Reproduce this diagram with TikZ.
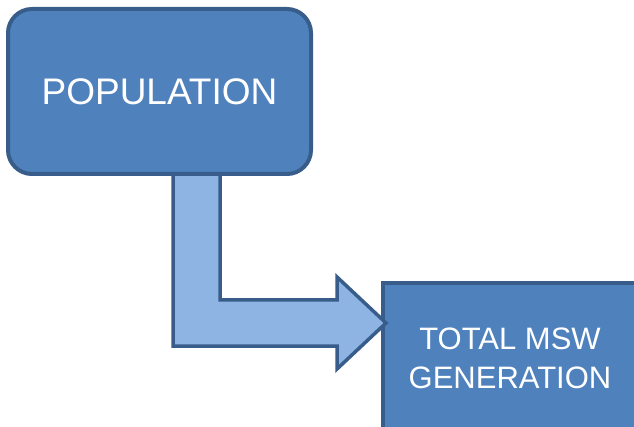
\documentclass[tikz,border=0pt]{standalone}
\usepackage{fontspec}
\setmainfont{Liberation Sans}
\usetikzlibrary{calc}
\definecolor{boxfill}{HTML}{4F81BD}
\definecolor{boxline}{HTML}{385D8A}
\definecolor{arrowfill}{HTML}{8EB4E3}
\begin{document}
\begin{tikzpicture}[x=1pt,y=-1pt,
  popbox/.style={draw=boxline, fill=boxfill, line width=4pt, rounded corners=24pt,
    outer sep=0pt, inner sep=0pt, text=white, font=\fontsize{37}{44}\selectfont, align=center},
  totbox/.style={draw=boxline, fill=boxfill, line width=4pt,
    outer sep=0pt, inner sep=0pt, text=white, font=\fontsize{31}{39}\selectfont, align=center},
  flowarrow/.style={draw=boxline, fill=arrowfill, line width=3.5pt, line join=miter}]
\useasboundingbox (0,0) rectangle (634,427);
\node[totbox, minimum width=254pt, minimum height=150pt, anchor=north west] (tot) at (383,283) {TOTAL MSW\\GENERATION};
\coordinate (tip) at (386,323);
\draw[flowarrow] (173,168) -- (173,346) -- (337,346) -- (337,369) -- (tip) -- (337,277) -- (337,300) -- (220,300) -- (220,168) -- cycle;
\node[popbox, minimum width=303pt, minimum height=165pt, anchor=north west] (pop) at (8,9) {\raisebox{-2pt}{POPULATION}};
\end{tikzpicture}
\end{document}
